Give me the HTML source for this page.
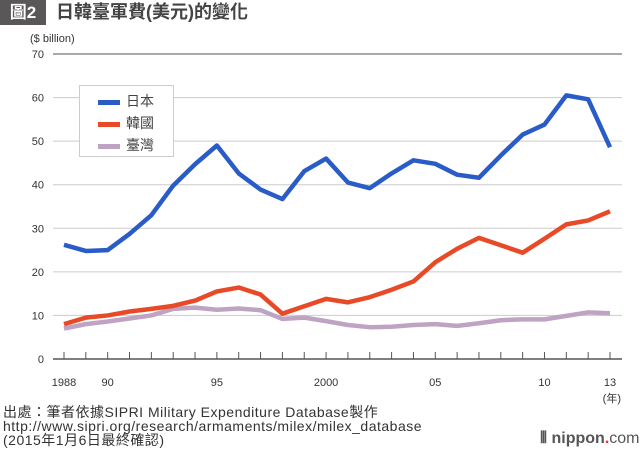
<!DOCTYPE html>
<html><head><meta charset="utf-8"><style>
body{margin:0;width:640px;height:450px;background:#fff;font-family:"Liberation Sans","Noto Sans CJK TC",sans-serif;position:relative;overflow:hidden}
.t{position:absolute;white-space:nowrap}
</style></head><body>
<div class="t" style="left:0;top:0;width:46px;height:25px;background:#595757;color:#fff;font-size:17px;font-weight:bold;line-height:25px;text-align:center">圖2</div>
<div class="t" style="left:56px;top:0;font-size:18px;line-height:25px;color:#444;font-weight:bold">日韓臺軍費(美元)的變化</div>
<div class="t" style="left:30px;top:33px;font-size:11px;color:#333">($ billion)</div>
<svg id="c" width="640" height="450" style="position:absolute;left:0;top:0"></svg>
<div style="position:absolute;left:79px;top:85px;width:93px;height:70px;border:1px solid #ccc;background:#fff">
<div style="position:absolute;left:18px;top:5px;font-size:14px;color:#444"><span style="display:inline-block;width:22px;height:5px;background:#2a5cc8;vertical-align:middle;margin-right:6px"></span>日本</div>
<div style="position:absolute;left:18px;top:27px;font-size:14px;color:#444"><span style="display:inline-block;width:22px;height:5px;background:#e84a27;vertical-align:middle;margin-right:6px"></span>韓國</div>
<div style="position:absolute;left:18px;top:49px;font-size:14px;color:#444"><span style="display:inline-block;width:22px;height:5px;background:#bfa3c2;vertical-align:middle;margin-right:6px"></span>臺灣</div>
</div>
<div class="t" style="left:3px;top:405px;font-size:14px;line-height:14px;letter-spacing:0.5px;color:#333">出處：筆者依據SIPRI Military Expenditure Database製作<br>http://www.sipri.org/research/armaments/milex/milex_database<br>(2015年1月6日最終確認)</div>
<div class="t" style="left:540px;top:430px;font-size:16px;font-weight:bold;color:#555">⦀ nippon<span style="color:#e33">.</span><span style="font-weight:normal">com</span></div>
<script>
const years=[1988,1989,1990,1991,1992,1993,1994,1995,1996,1997,1998,1999,2000,2001,2002,2003,2004,2005,2006,2007,2008,2009,2010,2011,2012,2013];
const japan=[26.2,24.8,25.0,28.7,33.0,39.8,44.7,49.0,42.6,38.9,36.7,43.1,46.0,40.5,39.2,42.6,45.6,44.8,42.3,41.6,46.7,51.5,53.8,60.5,59.6,48.6];
const korea=[8.0,9.5,10.0,10.9,11.5,12.2,13.4,15.5,16.4,14.8,10.4,12.1,13.8,13.0,14.2,15.9,17.8,22.2,25.3,27.8,26.1,24.4,27.6,30.9,31.8,33.9];
const taiwan=[7.0,8.0,8.6,9.3,10.0,11.5,11.8,11.3,11.6,11.2,9.2,9.5,8.7,7.8,7.3,7.4,7.8,8.0,7.6,8.2,8.9,9.1,9.1,9.9,10.7,10.5];
const yTicks=[0,10,20,30,40,50,60,70];
const xLabels={1988:"1988",1990:"90",1995:"95",2000:"2000",2005:"05",2010:"10",2013:"13"};
const NS="http://www.w3.org/2000/svg",svg=document.getElementById('c');
const X=y=>64+(y-1988)*(610-64)/25, Y=v=>359-v*(359-54)/70;
function el(t,a){const e=document.createElementNS(NS,t);for(const k in a)e.setAttribute(k,a[k]);svg.appendChild(e);return e;}
yTicks.forEach(v=>{
 const g=el('line',{x1:53,x2:622,y1:Y(v),y2:Y(v),stroke:v==0?'#555':(v==70?'#555':'#ccc'),'stroke-width':v==0?1.5:1});
 
 
 const t=el('text',{x:44,y:Y(v)+4,'text-anchor':'end','font-size':11,fill:'#333','font-family':'Liberation Sans'});t.textContent=v;
 
 
});
years.forEach(y=>{
 const l=el('line',{x1:X(y),x2:X(y),y1:Y(0)-7,y2:Y(0),stroke:'#555'});
 
 
 if(xLabels[y]){const t=el('text',{x:X(y),y:386,'text-anchor':'middle','font-size':11,fill:'#333','font-family':'Liberation Sans'});t.textContent=xLabels[y];
 
 }
});
const u=el('text',{x:621,y:402,'text-anchor':'end','font-size':11,fill:'#333','font-family':'Liberation Sans, Noto Sans CJK TC'});u.textContent='(年)';


[[taiwan,'#bfa3c2','taiwan'],[korea,'#e84a27','korea'],[japan,'#2a5cc8','japan']].forEach(([d,c,n])=>{
 const p=el('polyline',{points:d.map((v,i)=>X(years[i])+','+Y(v)).join(' '),fill:'none',stroke:c,'stroke-width':4.5,'stroke-linejoin':'round'});
 
 
});
</script>
</body></html>
